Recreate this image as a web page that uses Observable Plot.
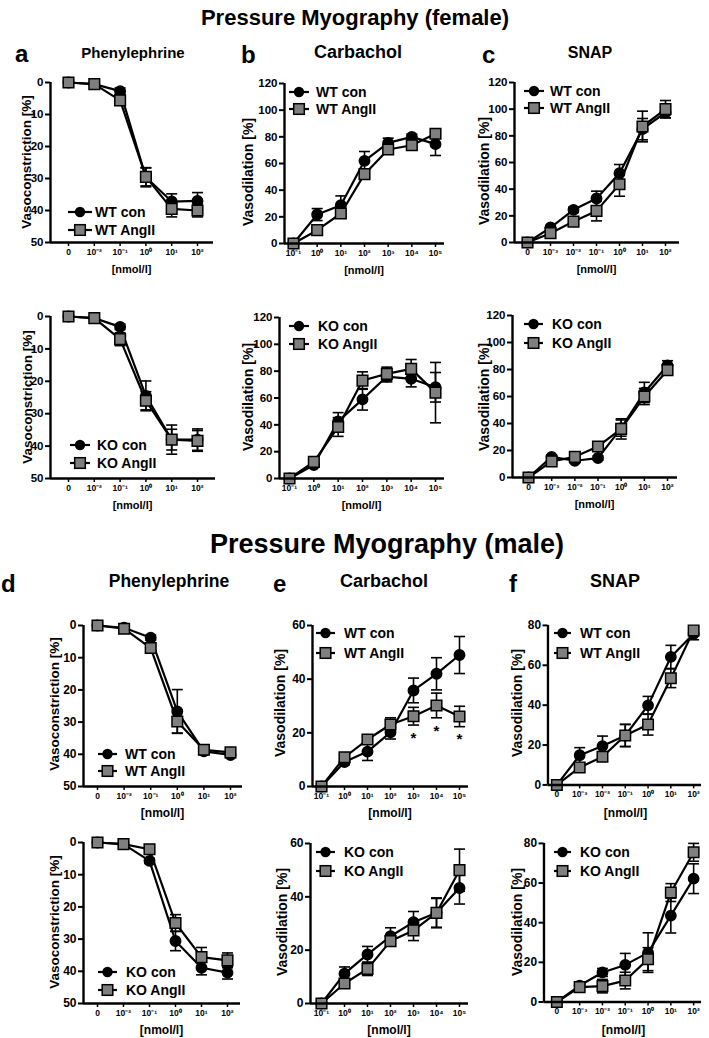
<!DOCTYPE html>
<html><head><meta charset="utf-8">
<script src="https://cdn.jsdelivr.net/npm/d3@7"></script>
<script src="https://cdn.jsdelivr.net/npm/@observablehq/plot@0.6"></script>
<style>
html,body{margin:0;padding:0;background:#fff;}
#root{position:relative;width:709px;height:1038px;overflow:hidden;background:#fff;}
.panel{position:absolute;}
.panel svg{overflow:visible;background:transparent;}
</style></head>
<body><div id="root"></div>
<script>
// ---------- categories / tick labels ----------
const pheCats  = ["0","10⁻²","10⁻¹","10⁰","10¹","10²"];
const carbCats = ["10⁻¹","10⁰","10¹","10²","10³","10⁴","10⁵"];
const snapCats = ["0","10⁻³","10⁻²","10⁻¹","10⁰","10¹","10²"];

// ---------- female ----------
const fWTpheCon     = [0, 0.5, 2.7, 29.6, 37.2, 37.0];
const fWTpheConErr  = [0, 0.3, 1.0, 3.0, 2.4, 2.6];
const fWTpheAng     = [0, 0.5, 5.6, 29.5, 39.5, 40.0];
const fWTpheAngErr  = [0, 0.3, 1.5, 2.8, 2.5, 2.0];

const fKOpheCon     = [0, 0.5, 3.2, 24.5, 38.0, 38.0];
const fKOpheConErr  = [0, 0.3, 0.8, 4.6, 4.5, 3.3];
const fKOpheAng     = [0, 0.5, 7.0, 26.0, 38.0, 38.4];
const fKOpheAngErr  = [0, 0.3, 2.0, 2.8, 3.2, 3.2];

const fWTcarbCon    = [0, 21.7, 28.7, 62.0, 75.5, 80.0, 74.5];
const fWTcarbConErr = [0, 4.5, 7.0, 7.0, 3.5, 2.0, 8.5];
const fWTcarbAng    = [0, 10.0, 22.5, 52.0, 70.5, 73.7, 82.3];
const fWTcarbAngErr = [0, 1.5, 2.5, 3.5, 3.0, 2.5, 2.5];

const fKOcarbCon    = [0, 10.0, 42.6, 59.0, 76.0, 74.3, 68.0];
const fKOcarbConErr = [0, 1.5, 6.5, 8.0, 4.0, 6.0, 11.0];
const fKOcarbAng    = [0, 12.4, 38.4, 73.0, 78.0, 81.7, 64.0];
const fKOcarbAngErr = [0, 2.0, 7.0, 6.5, 5.0, 7.0, 22.5];

const fWTsnapCon    = [0, 11.2, 24.5, 33.0, 52.0, 85.0, 97.5];
const fWTsnapConErr = [0, 1.5, 2.0, 5.5, 6.5, 8.0, 4.0];
const fWTsnapAng    = [0, 7.0, 15.7, 23.7, 43.7, 87.0, 100.0];
const fWTsnapAngErr = [0, 1.5, 3.0, 7.5, 9.0, 11.5, 6.5];

const fKOsnapCon    = [0, 15.3, 12.4, 14.4, 36.6, 63.0, 83.0];
const fKOsnapConErr = [0, 1.5, 1.5, 1.5, 6.0, 7.5, 3.5];
const fKOsnapAng    = [0, 11.9, 15.3, 23.0, 36.0, 60.0, 79.5];
const fKOsnapAngErr = [0, 1.5, 1.5, 2.5, 7.5, 6.0, 2.5];

// ---------- male ----------
const mWTpheCon     = [0, 0.7, 3.8, 26.7, 39.1, 40.2];
const mWTpheConErr  = [0, 0.3, 0.8, 6.8, 0.8, 0.8];
const mWTpheAng     = [0, 1.0, 7.0, 29.8, 38.6, 39.4];
const mWTpheAngErr  = [0, 0.3, 0.8, 3.6, 0.8, 0.8];

const mKOpheCon     = [0, 0.5, 5.7, 30.6, 38.9, 40.4];
const mKOpheConErr  = [0, 0.3, 0.8, 3.0, 2.2, 2.0];
const mKOpheAng     = [0, 0.5, 2.1, 25.0, 35.6, 36.6];
const mKOpheAngErr  = [0, 0.3, 0.8, 2.6, 3.0, 2.3];

const mWTcarbCon    = [0, 9.1, 13.0, 20.2, 35.8, 42.0, 49.0];
const mWTcarbConErr = [0, 1.0, 3.3, 2.5, 4.6, 6.0, 6.9];
const mWTcarbAng    = [0, 10.9, 17.5, 23.1, 26.2, 30.2, 26.1];
const mWTcarbAngErr = [0, 1.0, 1.5, 2.5, 3.3, 4.6, 3.8];
const mWTcarbSig    = ["", "", "", "", "*", "*", "*"];

const mKOcarbCon    = [0, 11.2, 18.4, 25.2, 30.5, 34.0, 43.3];
const mKOcarbConErr = [0, 2.5, 3.0, 3.2, 4.0, 5.6, 6.0];
const mKOcarbAng    = [0, 7.5, 13.0, 23.4, 27.4, 34.0, 50.0];
const mKOcarbAngErr = [0, 1.0, 2.5, 1.5, 3.8, 5.4, 7.9];

const mWTsnapCon    = [0, 14.9, 19.5, 24.8, 39.9, 64.2, 75.8];
const mWTsnapConErr = [0, 3.8, 5.0, 5.5, 4.5, 5.8, 3.0];
const mWTsnapAng    = [0, 8.8, 14.1, 24.8, 30.3, 53.5, 77.5];
const mWTsnapAngErr = [0, 1.0, 1.5, 5.6, 5.3, 4.7, 2.0];

const mKOsnapCon    = [0, 8.3, 14.9, 18.7, 24.9, 43.6, 62.2];
const mKOsnapConErr = [0, 1.0, 2.0, 5.8, 10.0, 8.8, 7.5];
const mKOsnapAng    = [0, 7.5, 8.0, 10.8, 21.6, 55.2, 75.5];
const mKOsnapAngErr = [0, 1.0, 3.4, 4.2, 5.8, 4.5, 4.5];

// ---------- text ----------
const mainTitles  = ["Pressure Myography (female)", "Pressure Myography (male)"];
const drugTitles  = ["Phenylephrine", "Carbachol", "SNAP"];
const letters     = ["a", "b", "c", "d", "e", "f"];
const yLabels     = ["Vasoconstriction [%]", "Vasodilation [%]"];
const xLabel      = "[nmol/l]";

// ---------- layout (page pixels) ----------
const FONT = "'Liberation Sans', Arial, Helvetica, sans-serif";
const ML = 58, MT = 10, MR = 8, MB = 40;
const layouts = {
  a:  {axisX:50,  axisEnd:213, tick0:68,  tickN:197, yTop:82,  yBottom:242, ylabX:26,  ylabY:162, leg:{x1:68, x2:92, tx:95, y1:212, y2:230}},
  a2: {axisX:50,  axisEnd:215, tick0:68,  tickN:197, yTop:316, yBottom:478, ylabX:27,  ylabY:397, leg:{x1:70, x2:90, tx:97, y1:445, y2:463}},
  b:  {axisX:284, axisEnd:444, tick0:293, tickN:435, yTop:83,  yBottom:243, ylabX:248, ylabY:172, leg:{x1:289,x2:309,tx:316,y1:92, y2:109}},
  b2: {axisX:279, axisEnd:444, tick0:289, tickN:435, yTop:317, yBottom:478, ylabX:248, ylabY:397, leg:{x1:289,x2:309,tx:318,y1:326,y2:344}},
  c:  {axisX:514, axisEnd:679, tick0:527, tickN:665, yTop:82,  yBottom:242, ylabX:484, ylabY:171, leg:{x1:524,x2:544,tx:550,y1:91, y2:108}},
  c2: {axisX:512, axisEnd:677, tick0:528, tickN:667, yTop:315, yBottom:477, ylabX:484, ylabY:397, leg:{x1:524,x2:543,tx:552,y1:324,y2:343}},
  d:  {axisX:83,  axisEnd:242, tick0:97,  tickN:230, yTop:625, yBottom:786, ylabX:54,  ylabY:704, leg:{x1:98, x2:117,tx:125,y1:754,y2:771}},
  d2: {axisX:83,  axisEnd:240, tick0:97,  tickN:227, yTop:842, yBottom:1003,ylabX:54,  ylabY:922, leg:{x1:98, x2:117,tx:126,y1:972,y2:990}},
  e:  {axisX:312, axisEnd:468, tick0:321, tickN:459, yTop:625, yBottom:786, ylabX:280, ylabY:703, leg:{x1:316,x2:335,tx:344,y1:633,y2:653}},
  e2: {axisX:310, axisEnd:468, tick0:321, tickN:459, yTop:843, yBottom:1003,ylabX:282, ylabY:922, leg:{x1:316,x2:335,tx:344,y1:852,y2:871}},
  f:  {axisX:548, axisEnd:703, tick0:557, tickN:695, yTop:625, yBottom:786, ylabX:517, ylabY:703, leg:{x1:554,x2:571,tx:580,y1:633,y2:653}},
  f2: {axisX:544, axisEnd:703, tick0:557, tickN:695, yTop:843, yBottom:1003,ylabX:517, ylabY:922, leg:{x1:554,x2:571,tx:580,y1:852,y2:871}}
};

const panels = [
  {key:"a",  cats:pheCats,  con:fWTpheCon,  conErr:fWTpheConErr,  ang:fWTpheAng,  angErr:fWTpheAngErr,  names:["WT con","WT AngII"], yMax:50,  yStep:10, reverse:true,  yl:0, big:false},
  {key:"a2", cats:pheCats,  con:fKOpheCon,  conErr:fKOpheConErr,  ang:fKOpheAng,  angErr:fKOpheAngErr,  names:["KO con","KO AngII"], yMax:50,  yStep:10, reverse:true,  yl:0, big:false},
  {key:"b",  cats:carbCats, con:fWTcarbCon, conErr:fWTcarbConErr, ang:fWTcarbAng, angErr:fWTcarbAngErr, names:["WT con","WT AngII"], yMax:120, yStep:20, reverse:false, yl:1, big:false},
  {key:"b2", cats:carbCats, con:fKOcarbCon, conErr:fKOcarbConErr, ang:fKOcarbAng, angErr:fKOcarbAngErr, names:["KO con","KO AngII"], yMax:120, yStep:20, reverse:false, yl:1, big:false},
  {key:"c",  cats:snapCats, con:fWTsnapCon, conErr:fWTsnapConErr, ang:fWTsnapAng, angErr:fWTsnapAngErr, names:["WT con","WT AngII"], yMax:120, yStep:20, reverse:false, yl:1, big:false},
  {key:"c2", cats:snapCats, con:fKOsnapCon, conErr:fKOsnapConErr, ang:fKOsnapAng, angErr:fKOsnapAngErr, names:["KO con","KO AngII"], yMax:120, yStep:20, reverse:false, yl:1, big:false},
  {key:"d",  cats:pheCats,  con:mWTpheCon,  conErr:mWTpheConErr,  ang:mWTpheAng,  angErr:mWTpheAngErr,  names:["WT con","WT AngII"], yMax:50,  yStep:10, reverse:true,  yl:0, big:true},
  {key:"d2", cats:pheCats,  con:mKOpheCon,  conErr:mKOpheConErr,  ang:mKOpheAng,  angErr:mKOpheAngErr,  names:["KO con","KO AngII"], yMax:50,  yStep:10, reverse:true,  yl:0, big:true},
  {key:"e",  cats:carbCats, con:mWTcarbCon, conErr:mWTcarbConErr, ang:mWTcarbAng, angErr:mWTcarbAngErr, names:["WT con","WT AngII"], yMax:60,  yStep:20, reverse:false, yl:1, big:true, sig:mWTcarbSig},
  {key:"e2", cats:carbCats, con:mKOcarbCon, conErr:mKOcarbConErr, ang:mKOcarbAng, angErr:mKOcarbAngErr, names:["KO con","KO AngII"], yMax:60,  yStep:20, reverse:false, yl:1, big:true},
  {key:"f",  cats:snapCats, con:mWTsnapCon, conErr:mWTsnapConErr, ang:mWTsnapAng, angErr:mWTsnapAngErr, names:["WT con","WT AngII"], yMax:80,  yStep:20, reverse:false, yl:1, big:true},
  {key:"f2", cats:snapCats, con:mKOsnapCon, conErr:mKOsnapConErr, ang:mKOsnapAng, angErr:mKOsnapAngErr, names:["KO con","KO AngII"], yMax:80,  yStep:20, reverse:false, yl:1, big:true}
];

const GRAY = "#7f7f7f";
const capSymbol = {draw(ctx) { ctx.moveTo(-5.5, 0); ctx.lineTo(5.5, 0); }};

const root = document.getElementById("root");

function drawPanel(p) {
  const L = layouts[p.key];
  const n = p.cats.length;
  const step = (L.tickN - L.tick0) / (n - 1);
  const lo = -(L.tick0 - L.axisX) / step;
  const hi = (n - 1) + (L.axisEnd - L.tickN) / step;
  const width = ML + (L.axisEnd - L.axisX) + MR;
  const height = MT + (L.yBottom - L.yTop) + MB;
  const rows = (vals, errs) => vals.map((v, i) => ({i, v, e: errs[i]}));
  const con = rows(p.con, p.conErr), ang = rows(p.ang, p.angErr);
  const base = p.reverse ? p.yMax : 0;
  const errMarks = (data) => [
    Plot.ruleX(data.filter(d => d.e > 0), {x: "i", y1: d => d.v - d.e, y2: d => d.v + d.e, stroke: "black", strokeWidth: 1.6}),
    Plot.dot(data.filter(d => d.e > 0.6), {x: "i", y: d => d.v + d.e, symbol: capSymbol, fill: "none", stroke: "black", strokeWidth: 1.6}),
    Plot.dot(data.filter(d => d.e > 0.6), {x: "i", y: d => d.v - d.e, symbol: capSymbol, fill: "none", stroke: "black", strokeWidth: 1.6})
  ];
  const marks = [
    Plot.axisY({ticks: d3.range(0, p.yMax + 1, p.yStep), tickSize: 5, tickPadding: 2, strokeWidth: 2, fontSize: p.big ? 12 : 11.5, label: null}),
    Plot.axisX({ticks: d3.range(n), tickFormat: i => p.cats[i], tickSize: 4, tickPadding: 2, strokeWidth: 1.5, fontSize: 8.5, label: null}),
    ...errMarks(con),
    ...errMarks(ang),
    Plot.line(con, {x: "i", y: "v", stroke: "black", strokeWidth: 2.2}),
    Plot.line(ang, {x: "i", y: "v", stroke: "black", strokeWidth: 2.2}),
    Plot.dot(con, {x: "i", y: "v", r: 5.2, fill: "black", stroke: "black"}),
    Plot.dot(ang, {x: "i", y: "v", r: 6, symbol: "square", fill: GRAY, stroke: "black", strokeWidth: 1.5}),
    Plot.ruleX([lo], {stroke: "black", strokeWidth: 2.4}),
    Plot.ruleY([base], {stroke: "black", strokeWidth: 2.4})
  ];
  if (p.sig) {
    marks.push(Plot.text(ang.filter(d => p.sig[d.i]), {x: "i", y: d => d.v - d.e, text: d => p.sig[d.i], dy: 13, fontSize: 15, fontWeight: "bold", fill: "black"}));
  }
  const chart = Plot.plot({
    width, height, marginLeft: ML, marginTop: MT, marginRight: MR, marginBottom: MB,
    x: {domain: [lo, hi]},
    y: {domain: [0, p.yMax], reverse: !!p.reverse},
    style: {fontFamily: FONT, fontWeight: "bold", background: "transparent", color: "black", overflow: "visible"},
    marks
  });
  const div = document.createElement("div");
  div.className = "panel";
  div.style.left = (L.axisX - ML) + "px";
  div.style.top = (L.yTop - MT) + "px";
  div.appendChild(chart);
  root.appendChild(div);
}
panels.forEach(drawPanel);

// ---------- overlay text & legends ----------
const ov = d3.select(root).append("svg")
  .attr("width", 709).attr("height", 1038)
  .style("position", "absolute").style("left", "0px").style("top", "0px")
  .style("pointer-events", "none")
  .attr("font-family", FONT).attr("font-weight", "bold").attr("fill", "black");

function txt(x, y, s, size, anchor = "start", rotate = false) {
  const t = ov.append("text").attr("font-size", size).attr("text-anchor", anchor).text(s);
  if (rotate) t.attr("transform", `translate(${x},${y}) rotate(-90)`).attr("dominant-baseline", "central");
  else t.attr("x", x).attr("y", y);
  return t;
}

// main titles
txt(355, 25, mainTitles[0], 22, "middle");
txt(387, 553, mainTitles[1], 27, "middle");

// letters and drug titles
const headPos = [
  {lx:15, ly:62, tx:133, ty:58, ts:15},
  {lx:241, ly:63, tx:358, ty:58, ts:18},
  {lx:482, ly:63, tx:590, ty:58, ts:16},
  {lx:1, ly:592, tx:169, ty:587, ts:17.5},
  {lx:273, ly:592, tx:384, ty:587, ts:18},
  {lx:509, ly:592, tx:615, ty:587, ts:18}
];
headPos.forEach((h, k) => {
  txt(h.lx, h.ly, letters[k], 24, "start");
  txt(h.tx, h.ty, drugTitles[k % 3], h.ts, "middle");
});

panels.forEach(p => {
  const L = layouts[p.key];
  txt(L.ylabX, L.ylabY, yLabels[p.yl], p.yl === 0 ? 13.5 : 14, "middle", true);
  txt((L.axisX + L.axisEnd) / 2, L.yBottom + 31, xLabel, p.big ? 12 : 11, "middle");
  const g = L.leg;
  [[g.y1, 0], [g.y2, 1]].forEach(([y, s]) => {
    const cx = (g.x1 + g.x2) / 2;
    ov.append("line").attr("x1", g.x1).attr("x2", g.x2).attr("y1", y).attr("y2", y).attr("stroke", "black").attr("stroke-width", 2.2);
    if (s === 0) ov.append("circle").attr("cx", cx).attr("cy", y).attr("r", 5.2).attr("fill", "black");
    else ov.append("rect").attr("x", cx - 5.3).attr("y", y - 5.3).attr("width", 10.6).attr("height", 10.6).attr("fill", GRAY).attr("stroke", "black").attr("stroke-width", 1.5);
    txt(g.tx, y + 5, p.names[s], 14, "start");
  });
});
</script>
</body></html>
